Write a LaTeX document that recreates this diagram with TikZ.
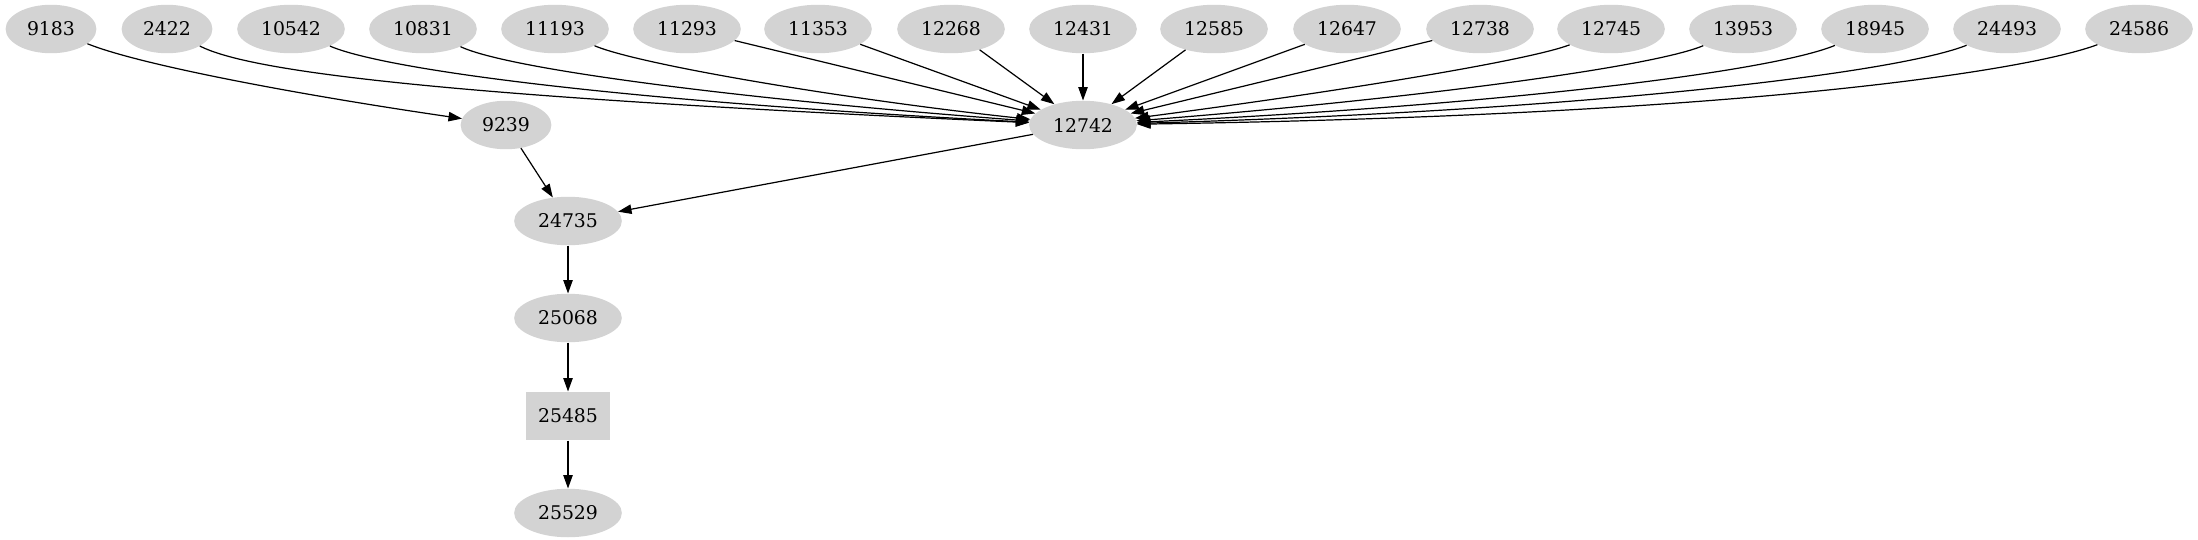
\documentclass[tikz,border=0pt]{standalone}
\usepackage{fontspec}
\setmainfont{DejaVu Serif}
\usepackage{tikz}
\usepackage{xcolor}
\usetikzlibrary{arrows.meta,shapes.geometric}
\definecolor{nodegray}{HTML}{D3D3D3}

\begin{document}
\begin{tikzpicture}[x=0.7424pt, y=-0.7424pt,
                    oval/.style={ellipse, fill=nodegray, inner xsep=6pt, inner ysep=0pt, minimum height=36pt, font=\fontsize{14}{16}\selectfont},
                    boxed/.style={rectangle, fill=nodegray, inner xsep=9pt, inner ysep=0pt, minimum height=36pt, font=\fontsize{14}{16}\selectfont},
                    edge/.style={line width=0.9pt, -{Triangle[length=10pt, width=7pt]}}]
                \useasboundingbox (0,0) rectangle (2198,539);
                \node[oval] (n9183) at (51,29) {9183};
                \node[oval] (n2422) at (167,29) {2422};
                \node[oval] (n10542) at (291,29) {10542};
                \node[oval] (n10831) at (423,29) {10831};
                \node[oval] (n11193) at (555,29) {11193};
                \node[oval] (n11293) at (687,29) {11293};
                \node[oval] (n11353) at (818,29) {11353};
                \node[oval] (n12268) at (951,29) {12268};
                \node[oval] (n12431) at (1083,29) {12431};
                \node[oval] (n12585) at (1214,29) {12585};
                \node[oval] (n12647) at (1347,29) {12647};
                \node[oval] (n12738) at (1480,29) {12738};
                \node[oval] (n12745) at (1611,29) {12745};
                \node[oval] (n13953) at (1743,29) {13953};
                \node[oval] (n18945) at (1875,29) {18945};
                \node[oval] (n24493) at (2007,29) {24493};
                \node[oval] (n24586) at (2139,29) {24586};
                \node[oval] (n9239) at (506,125) {9239};
                \node[oval] (n12742) at (1083,125) {12742};
                \node[oval] (n24735) at (568,221) {24735};
                \node[oval] (n25068) at (568,318) {25068};
                \node[boxed] (n25485) at (568,416) {25485};
                \node[oval] (n25529) at (568,513) {25529};
                \draw[edge] (n9183) .. controls (140,65) and (300,95) .. (n9239);
                \draw[edge] (n2422) .. controls (250,72) and (450,97) .. (n12742);
                \draw[edge] (n10542) .. controls (380,68) and (600,100) .. (n12742);
                \draw[edge] (n10831) .. controls (510,70) and (750,100) .. (n12742);
                \draw[edge] (n11193) .. controls (640,65) and (850,100) .. (n12742);
                \draw[edge] (n11293) -- (n12742);
                \draw[edge] (n11353) -- (n12742);
                \draw[edge] (n12268) -- (n12742);
                \draw[edge] (n12431) -- (n12742);
                \draw[edge] (n12585) -- (n12742);
                \draw[edge] (n12647) -- (n12742);
                \draw[edge] (n12738) -- (n12742);
                \draw[edge] (n12745) .. controls (1530,60) and (1350,90) .. (n12742);
                \draw[edge] (n13953) .. controls (1650,68) and (1400,100) .. (n12742);
                \draw[edge] (n18945) .. controls (1770,72) and (1500,105) .. (n12742);
                \draw[edge] (n24493) .. controls (1900,72) and (1600,110) .. (n12742);
                \draw[edge] (n24586) .. controls (2030,70) and (1750,115) .. (n12742);
                \draw[edge] (n9239) -- (n24735);
                \draw[edge] (n12742) -- (n24735);
                \draw[edge] (n24735) -- (n25068);
                \draw[edge] (n25068) -- (n25485);
                \draw[edge] (n25485) -- (n25529);
            \end{tikzpicture}
\end{document}
